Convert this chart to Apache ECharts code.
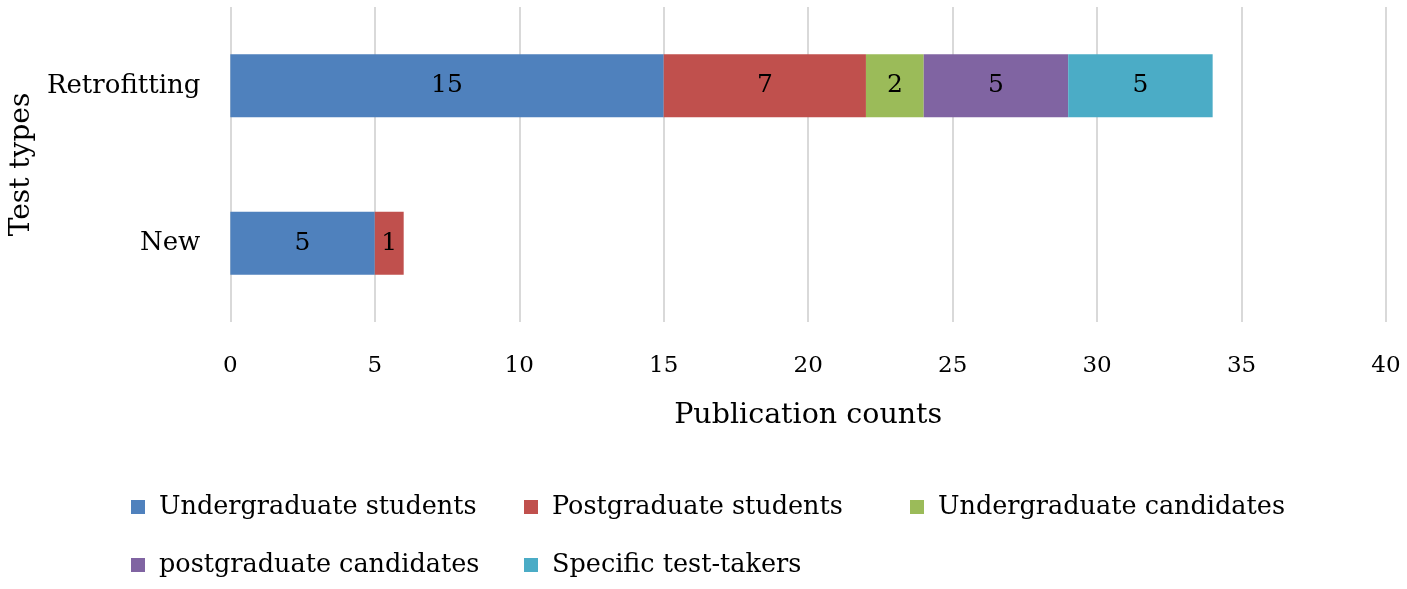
<!DOCTYPE html>
<html><head><meta charset="utf-8">
<script src="https://cdn.jsdelivr.net/npm/echarts@6/dist/echarts.min.js"></script>
<style>html,body{margin:0;padding:0;background:#fff}#c{width:1407px;height:589px}</style>
</head><body><div id="c"></div>
<script>
const categories = ['New', 'Retrofitting'];
const seriesNames = ['Undergraduate students', 'Postgraduate students', 'Undergraduate candidates', 'postgraduate candidates', 'Specific test-takers'];
const undergradStudents = [5, 15];
const postgradStudents = [1, 7];
const undergradCandidates = [null, 2];
const postgradCandidates = [null, 5];
const specificTestTakers = [null, 5];
const xTicks = [0, 5, 10, 15, 20, 25, 30, 35, 40];

const colors = ['#4F81BD', '#C0504D', '#9BBB59', '#8064A2', '#4BACC6'];
const values = [undergradStudents, postgradStudents, undergradCandidates, postgradCandidates, specificTestTakers];
const FONT = 'DejaVu Serif';

const legendPos = [[131, 494], [524, 494], [910, 494], [131, 552], [524, 552]];

const chart = echarts.init(document.getElementById('c'));
chart.setOption({
  animation: false,
  textStyle: {fontFamily: FONT},
  grid: {left: 230, right: 21, top: 7, height: 315, containLabel: false},
  xAxis: {
    type: 'value', min: xTicks[0], max: xTicks[xTicks.length - 1], interval: 5,
    axisLine: {show: false}, axisTick: {show: false},
    splitLine: {show: true, lineStyle: {color: '#D9D9D9', width: 2}},
    axisLabel: {fontSize: 23, color: '#000', fontFamily: FONT, margin: 33},
    name: 'Publication counts', nameLocation: 'middle', nameGap: 79,
    nameTextStyle: {fontSize: 28.5, color: '#000', fontFamily: FONT}
  },
  yAxis: {
    type: 'category', data: categories,
    axisLine: {show: false}, axisTick: {show: false},
    axisLabel: {fontSize: 26, color: '#000', fontFamily: FONT, margin: 30},
    name: 'Test types', nameLocation: 'middle', nameGap: 191, nameRotate: 90,
    nameTextStyle: {fontSize: 28, color: '#000', fontFamily: FONT}
  },
  legend: seriesNames.map((n, i) => ({
    data: [n], left: legendPos[i][0], top: legendPos[i][1],
    itemWidth: 14, itemHeight: 14, icon: 'rect', padding: 0,
    textStyle: {fontSize: 25.5, color: '#000', fontFamily: FONT, padding: [0, 0, 0, 9]}
  })),
  series: seriesNames.map((n, i) => ({
    name: n, type: 'bar', stack: 'total', data: values[i],
    barWidth: '40%',
    itemStyle: {color: colors[i]},
    label: {show: true, position: 'inside', color: '#000', fontSize: 25, fontFamily: FONT,
      formatter: p => p.value == null ? '' : p.value}
  }))
});
</script></body></html>
